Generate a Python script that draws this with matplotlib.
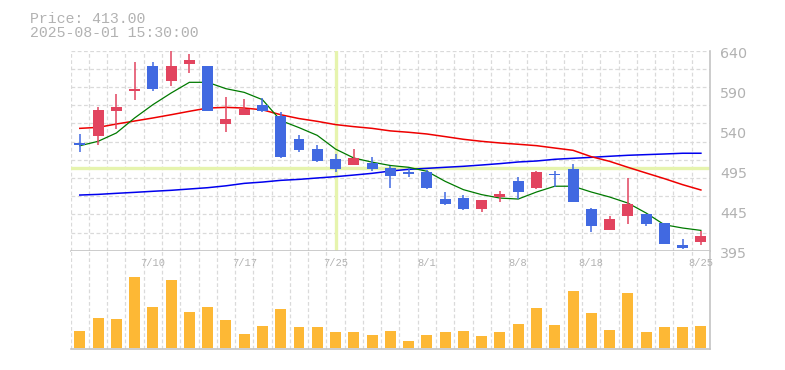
import matplotlib
matplotlib.use("Agg")
import matplotlib.pyplot as plt
import matplotlib.transforms as mtrans

# Data
opens = [527, 536, 566, 590.6, 621.3, 603.3, 624.1, 621.3, 550.6, 561.6,
         573.9, 560, 531.8, 519.5, 507.3, 500.4, 502.4, 495.9, 491.4, 491.4,
         458.3, 459.5, 446.5, 461.2, 480.4, 472.2, 489.3, 495.1, 446.1, 420.8,
         437.9, 440, 429, 401.9, 406]
highs = [538, 571.4, 587, 626.2, 626.2, 640, 636.3, 621.3, 582.9, 581.2,
         582, 565, 536.7, 524.4, 513.5, 519.5, 509.8, 499.2, 496.3, 493.8,
         466.9, 463.2, 457.1, 468.5, 485.3, 492.6, 492.1, 501.2, 447.3, 437.9,
         484.4, 440, 429, 409.3, 419.1]
lows = [515.5, 525, 544.5, 579.6, 591, 596.8, 613, 566.5, 540.8, 561.6,
        565, 509, 516.3, 504, 491.8, 500.4, 493, 471.8, 485.3, 471,
        451.3, 445.3, 442.8, 455, 458.3, 471, 472.5, 455, 418.3, 420.8,
        428.1, 425.6, 403.6, 397.4, 402.4]
closes = [525, 567.4, 571, 593.1, 593.1, 621.3, 628.6, 566.5, 556.7, 568.6,
          566.2, 510.2, 518.7, 505.3, 495.5, 508.6, 495.5, 486.9, 489.3, 472.2,
          452.6, 446.5, 457.1, 464.8, 467.3, 491.4, 487.7, 455, 425.6, 433.8,
          452.6, 428.1, 403.6, 398.7, 413]
ma_short = [523.6, 529, 539.2, 557.6, 573.9, 588.2, 601.3, 601.3, 593.5, 589,
            580, 554.5, 545.8, 536.3, 519.5, 508.6, 503.5, 499.4, 497.2, 492.3,
            480, 469.8, 463.7, 459.5, 458.3, 466.9, 474, 474, 466.9, 460.8,
            453.4, 441.2, 426.8, 422.8, 419.9]
ma_mid = [544.9, 546.1, 550.2, 553.9, 557.6, 561.6, 565.8, 569.8, 570.6, 569.8,
          567.6, 561.6, 556.9, 553.5, 549.5, 547, 544.9, 541.8, 540.1, 538,
          534.8, 531.5, 529, 527, 525.4, 523.7, 520.8, 518, 510.2, 504.5,
          497.2, 490.2, 483.3, 475.9, 469.4]
ma_long = [463.2, 464, 465.3, 466.5, 467.8, 469, 470.6, 472.2, 474.5, 477.5,
           479.1, 481.2, 482.4, 484.1, 485.7, 487.7, 489.8, 492.6, 494.7, 495.9,
           497.2, 498.4, 500, 501.7, 503.7, 504.9, 507, 508.2, 509.4, 510.7,
           511.9, 512.7, 513.5, 514.4, 514.4]
volume = [1700, 3000, 2900, 7100, 4100, 6800, 3600, 4100, 2800, 1400,
          2200, 3900, 2100, 2100, 1600, 1600, 1300, 1700, 700, 1300,
          1600, 1700, 1200, 1600, 2400, 4000, 2300, 5700, 3500, 1800,
          5500, 1600, 2100, 2100, 2200]
tick_idx = [4, 9, 14, 19, 24, 28, 34]
tick_labels = ['7/10', '7/17', '7/25', '8/1', '8/8', '8/18', '8/25']
ytick_vals = [395, 444, 493, 542, 591, 640]
ytick_labels = ['395', '445', '495', '540', '590', '640']

n = len(closes)
up_col = '#e2445f'
down_col = '#4169e1'
grid_col = '#dadada'
frame_col = '#c4c4c4'
text_col = '#b2b2b2'

fig = plt.figure(figsize=(7.85, 3.7), dpi=100)
ax = fig.add_axes([0.0900, 0.3224, 0.8145, 0.5405])
axv = fig.add_axes([0.0900, 0.056, 0.8145, 0.2665])

for a in (ax, axv):
    a.set_xlim(-0.5, n - 0.5)
    for s in ('top', 'left'):
        a.spines[s].set_visible(False)
    for s in ('right', 'bottom'):
        a.spines[s].set_color(frame_col)
        a.spines[s].set_linewidth(1.2)
    a.set_xticks([])
    a.set_yticks([])
    for i in range(n):
        a.axvline(i - 0.5, color=grid_col, lw=0.9, ls=(0, (3, 2)), zorder=0)

ax.set_ylim(395, 640)
step = (640 - 395) / 11
for k in range(1, 12):
    ax.axhline(395 + k * step, color=grid_col, lw=0.9, ls=(0, (3, 2)), zorder=0)

# crosshair
ax.axhline(496.3, color='#e6f4ae', lw=2.4, zorder=1)
ax.plot([14, 14], [397, 639], color='#e6f4ae', lw=2.4, zorder=1)

# moving averages
x = list(range(n))
ax.plot(x, ma_long, color='#0000ee', lw=1.1, zorder=2)
ax.plot(x, ma_mid, color='#ee0000', lw=1.1, zorder=2)
ax.plot(x, ma_short, color='#007a00', lw=0.9, zorder=2)

# candles
w = 0.6
for i in range(n):
    o, h, l, c = opens[i], highs[i], lows[i], closes[i]
    col = up_col if c >= o else down_col
    ax.vlines(i, l, h, color=col, lw=1.1, zorder=3)
    lo, hi = min(o, c), max(o, c)
    if hi - lo < 1.0:
        ax.hlines((o + c) / 2, i - w / 2, i + w / 2, color=col, lw=1.3, zorder=3)
    else:
        ax.bar(i, hi - lo, w, lo, color=col, lw=0, zorder=3)

# volume
axv.bar(x, volume, 0.6, color='#fdb835', lw=0, zorder=2)
axv.set_ylim(-130, 9730)

# y labels on the right
off = mtrans.ScaledTranslation(0.10, -0.076, fig.dpi_scale_trans)
for v, lab in zip(ytick_vals, ytick_labels):
    ax.text(1.0, v, lab, transform=ax.get_yaxis_transform() + off,
            ha='left', va='baseline', fontsize=10.3, color=text_col,
            family='DejaVu Sans', clip_on=False)

# date labels inside the volume pane
for i, lab in zip(tick_idx, tick_labels):
    axv.text(i, 0.845, lab, transform=axv.get_xaxis_transform(),
             ha='center', va='baseline', fontsize=7.5, color=text_col,
             family='Liberation Mono', clip_on=False, zorder=4)

# header
fig.text(0.0382, 0.9386, 'Price: 413.00', fontsize=10.7, color=text_col,
         family='Liberation Mono', ha='left', va='baseline')
fig.text(0.0382, 0.8992, '2025-08-01 15:30:00', fontsize=10.7, color=text_col,
         family='Liberation Mono', ha='left', va='baseline')

fig.savefig('out.png', dpi=100)
